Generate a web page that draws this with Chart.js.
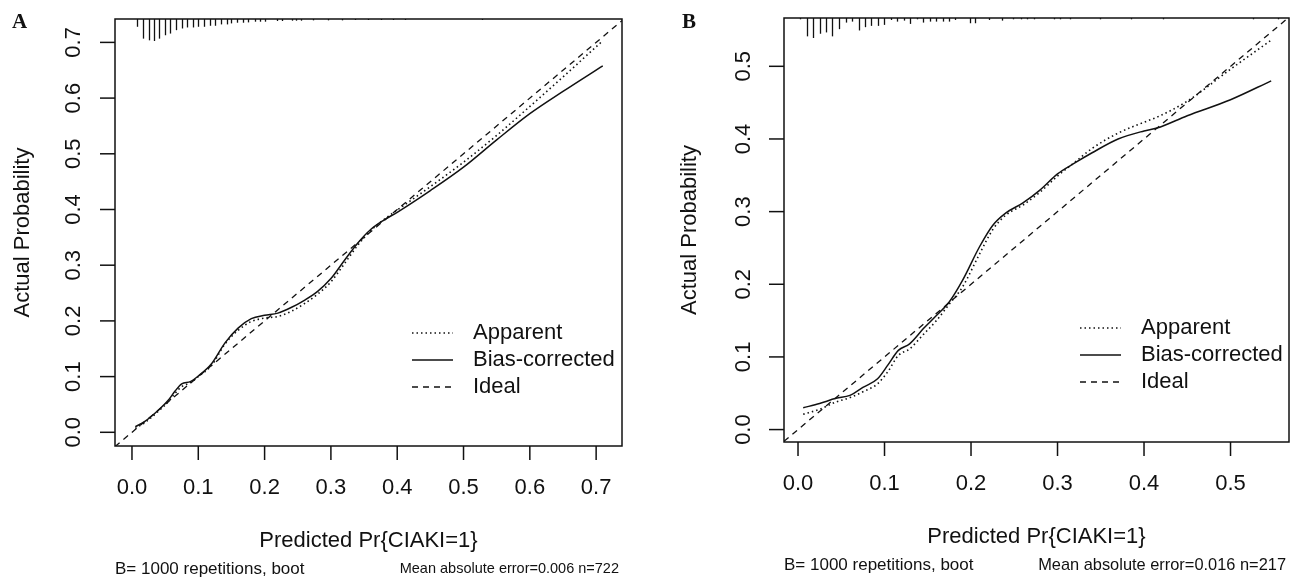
<!DOCTYPE html>
<html lang="en">
<head>
    <meta charset="UTF-8">
    <title>Calibration curves</title>
    <script src="https://cdn.jsdelivr.net/npm/chart.js"></script>
    <style>
        body {
            margin: 0;
            background: #fff;
            width: 1299px;
            height: 579px;
            overflow: hidden;
            position: relative;
        }
        .panel {
            position: absolute;
            top: 0;
        }
    </style>
</head>
<body>
    <div class="panel" style="left:0"><canvas id="chartA" width="650" height="579"></canvas></div>
    <div class="panel" style="left:650px"><canvas id="chartB" width="649" height="579"></canvas></div>

    <script>
        // panel A data
        const predA = [0.005, 0.02, 0.04, 0.055, 0.065, 0.075, 0.088, 0.1, 0.12, 0.14, 0.16, 0.18, 0.2, 0.22, 0.24, 0.26, 0.28, 0.3, 0.32, 0.34, 0.36, 0.38, 0.4, 0.45, 0.5, 0.55, 0.6, 0.65, 0.71];
        const biasA = [0.010, 0.020, 0.040, 0.058, 0.074, 0.087, 0.091, 0.101, 0.123, 0.160, 0.187, 0.204, 0.210, 0.214, 0.224, 0.237, 0.253, 0.276, 0.308, 0.339, 0.364, 0.381, 0.395, 0.434, 0.476, 0.525, 0.572, 0.612, 0.658];
        const apparentA = [0.007, 0.018, 0.038, 0.055, 0.070, 0.082, 0.089, 0.100, 0.120, 0.158, 0.183, 0.199, 0.205, 0.208, 0.217, 0.231, 0.248, 0.270, 0.302, 0.335, 0.362, 0.382, 0.399, 0.441, 0.485, 0.533, 0.585, 0.638, 0.703];
        const rugXA = [0.007, 0.017, 0.025, 0.033, 0.041, 0.050, 0.057, 0.066, 0.075, 0.083, 0.092, 0.100, 0.109, 0.117, 0.125, 0.134, 0.143, 0.150, 0.159, 0.168, 0.175, 0.185, 0.193, 0.201, 0.218, 0.226, 0.241, 0.248, 0.255, 0.273, 0.296, 0.316, 0.336, 0.356, 0.376, 0.394, 0.412, 0.528];
        const rugFreqA = [23, 58, 63, 65, 58, 48, 43, 33, 28, 25, 25, 23, 23, 20, 20, 16, 16, 13, 11, 11, 10, 8, 8, 8, 6, 6, 5, 5, 5, 4, 4, 4, 3, 3, 3, 3, 3, 3];
        const xTicksA = [0, 0.1, 0.2, 0.3, 0.4, 0.5, 0.6, 0.7];
        const yTicksA = [0, 0.1, 0.2, 0.3, 0.4, 0.5, 0.6, 0.7];
        const subA = ['B= 1000 repetitions, boot', 'Mean absolute error=0.006 n=722'];

        // panel B data
        const predB = [0.006, 0.025, 0.044, 0.06, 0.075, 0.092, 0.104, 0.116, 0.129, 0.145, 0.16, 0.175, 0.19, 0.21, 0.225, 0.24, 0.26, 0.28, 0.3, 0.32, 0.34, 0.37, 0.4, 0.415, 0.45, 0.5, 0.547];
        const biasB = [0.030, 0.036, 0.043, 0.047, 0.058, 0.070, 0.089, 0.109, 0.118, 0.139, 0.157, 0.176, 0.205, 0.252, 0.281, 0.298, 0.312, 0.330, 0.352, 0.367, 0.381, 0.400, 0.411, 0.415, 0.432, 0.454, 0.480];
        const apparentB = [0.021, 0.028, 0.038, 0.044, 0.052, 0.063, 0.080, 0.102, 0.111, 0.131, 0.150, 0.173, 0.196, 0.242, 0.275, 0.295, 0.309, 0.327, 0.349, 0.368, 0.387, 0.408, 0.423, 0.430, 0.452, 0.496, 0.536];
        const rugXB = [0.002, 0.010, 0.017, 0.025, 0.032, 0.039, 0.047, 0.055, 0.062, 0.070, 0.077, 0.084, 0.093, 0.099, 0.108, 0.115, 0.122, 0.129, 0.138, 0.145, 0.153, 0.160, 0.168, 0.175, 0.182, 0.199, 0.205, 0.221, 0.236, 0.249, 0.258, 0.265, 0.273, 0.296, 0.303, 0.314, 0.349, 0.385, 0.422, 0.526, 0.555];
        const rugFreqB = [4, 56, 61, 48, 44, 56, 34, 14, 11, 38, 28, 24, 24, 21, 6, 11, 8, 18, 4, 14, 11, 11, 11, 11, 6, 16, 16, 6, 8, 4, 4, 4, 4, 4, 4, 4, 4, 4, 4, 4, 4];
        const xTicksB = [0, 0.1, 0.2, 0.3, 0.4, 0.5];
        const yTicksB = [0, 0.1, 0.2, 0.3, 0.4, 0.5];
        const subB = ['B= 1000 repetitions, boot', 'Mean absolute error=0.016 n=217'];

        const legendNames = ['Apparent', 'Bias-corrected', 'Ideal'];
        const INK = '#111';
        const SANS = '"Liberation Sans", Arial, sans-serif';
        const DOT = [1.5, 3];
        const DASH = [6, 5];

        function pts(xs, ys) {
            return xs.map((x, i) => ({ x: x, y: ys[i] }));
        }

        // draws the R-style frame, ticks, rug, legend and captions
        function rDecor(o) {
            return {
                id: 'rDecor',
                afterDraw(chart) {
                    const ctx = chart.ctx;
                    const a = chart.chartArea;
                    const xs = chart.scales.x, ys = chart.scales.y;
                    ctx.save();
                    ctx.strokeStyle = INK;
                    ctx.fillStyle = INK;
                    ctx.lineWidth = 1.5;
                    ctx.setLineDash([]);
                    ctx.strokeRect(a.left, a.top, a.right - a.left, a.bottom - a.top);

                    // rug / spike histogram hanging from the top edge
                    const fmax = Math.max(...o.rugFreq);
                    ctx.lineWidth = 1.3;
                    o.rugX.forEach((v, i) => {
                        const px = Math.round(xs.getPixelForValue(v)) + 0.5;
                        ctx.beginPath();
                        ctx.moveTo(px, a.top);
                        ctx.lineTo(px, a.top + o.rugLen * o.rugFreq[i] / fmax);
                        ctx.stroke();
                    });

                    // x axis
                    ctx.lineWidth = 1.5;
                    ctx.font = '22px ' + SANS;
                    ctx.textAlign = 'center';
                    ctx.textBaseline = 'middle';
                    o.xTicks.forEach(v => {
                        const px = xs.getPixelForValue(v);
                        ctx.beginPath();
                        ctx.moveTo(px, a.bottom);
                        ctx.lineTo(px, a.bottom + 14);
                        ctx.stroke();
                        ctx.fillText(v.toFixed(1), px, o.xLabelY);
                    });
                    // y axis
                    o.yTicks.forEach(v => {
                        const py = ys.getPixelForValue(v);
                        ctx.beginPath();
                        ctx.moveTo(a.left, py);
                        ctx.lineTo(a.left - 15, py);
                        ctx.stroke();
                        ctx.save();
                        ctx.translate(o.yLabelX, py);
                        ctx.rotate(-Math.PI / 2);
                        ctx.fillText(v.toFixed(1), 0, 0);
                        ctx.restore();
                    });

                    // axis titles
                    const cx = (a.left + a.right) / 2, cy = (a.top + a.bottom) / 2;
                    ctx.fillText('Predicted Pr{CIAKI=1}', cx, o.xTitleY);
                    ctx.save();
                    ctx.translate(o.yTitleX, cy);
                    ctx.rotate(-Math.PI / 2);
                    ctx.fillText('Actual Probability', 0, 0);
                    ctx.restore();

                    // legend
                    const dashes = [DOT, [], DASH];
                    legendNames.forEach((name, i) => {
                        const y = o.legendY + i * 27;
                        ctx.setLineDash(dashes[i]);
                        ctx.lineWidth = 1.4;
                        ctx.beginPath();
                        ctx.moveTo(o.legendX, y);
                        ctx.lineTo(o.legendX + 41, y);
                        ctx.stroke();
                        ctx.setLineDash([]);
                        ctx.textAlign = 'left';
                        ctx.fillText(name, o.legendX + 61, y);
                    });

                    // captions under the plot
                    ctx.textAlign = 'left';
                    ctx.font = o.subFont[0] + 'px ' + SANS;
                    ctx.fillText(o.sub[0], a.left, o.subY);
                    ctx.textAlign = 'right';
                    ctx.font = o.subFont[1] + 'px ' + SANS;
                    ctx.fillText(o.sub[1], o.subRight, o.subY);

                    // panel letter
                    ctx.textAlign = 'left';
                    ctx.font = 'bold 21px "Liberation Serif", "Times New Roman", serif';
                    ctx.fillText(o.letter, o.letterX, 23);
                    ctx.restore();
                }
            };
        }

        function makeChart(id, pred, apparent, bias, lim, pad, decor) {
            const ideal = [{ x: lim.x[0], y: lim.x[0] }, { x: lim.x[1], y: lim.x[1] }];
            return new Chart(document.getElementById(id), {
                type: 'line',
                data: {
                    datasets: [
                        { label: 'Apparent', data: pts(pred, apparent), borderColor: INK, borderWidth: 1.6, borderDash: DOT, pointRadius: 0, cubicInterpolationMode: 'monotone' },
                        { label: 'Bias-corrected', data: pts(pred, bias), borderColor: INK, borderWidth: 1.5, pointRadius: 0, cubicInterpolationMode: 'monotone' },
                        { label: 'Ideal', data: ideal, borderColor: INK, borderWidth: 1.3, borderDash: DASH, pointRadius: 0 }
                    ]
                },
                options: {
                    responsive: false,
                    animation: false,
                    devicePixelRatio: 1,
                    layout: { padding: pad },
                    plugins: { legend: { display: false }, tooltip: { enabled: false } },
                    scales: {
                        x: { type: 'linear', min: lim.x[0], max: lim.x[1], display: false },
                        y: { type: 'linear', min: lim.y[0], max: lim.y[1], display: false }
                    }
                },
                plugins: [rDecor(decor)]
            });
        }

        makeChart('chartA', predA, apparentA, biasA,
            { x: [-0.0256, 0.739], y: [-0.0246, 0.742] },
            { left: 115, right: 28, top: 19, bottom: 133 },
            {
                rugX: rugXA, rugFreq: rugFreqA, rugLen: 22,
                xTicks: xTicksA, yTicks: yTicksA,
                xLabelY: 488, yLabelX: 74, xTitleY: 541, yTitleX: 23,
                legendX: 412, legendY: 333,
                sub: subA, subFont: [17, 14.5], subY: 569, subRight: 619,
                letter: 'A', letterX: 12
            });

        makeChart('chartB', predB, apparentB, biasB,
            { x: [-0.0162, 0.5676], y: [-0.0171, 0.5665] },
            { left: 134, right: 10, top: 18, bottom: 137 },
            {
                rugX: rugXB, rugFreq: rugFreqB, rugLen: 20,
                xTicks: xTicksB, yTicks: yTicksB,
                xLabelY: 484, yLabelX: 94, xTitleY: 537, yTitleX: 40,
                legendX: 430, legendY: 328,
                sub: subB, subFont: [17, 16.4], subY: 565, subRight: 636,
                letter: 'B', letterX: 32
            });
    </script>
</body>
</html>
